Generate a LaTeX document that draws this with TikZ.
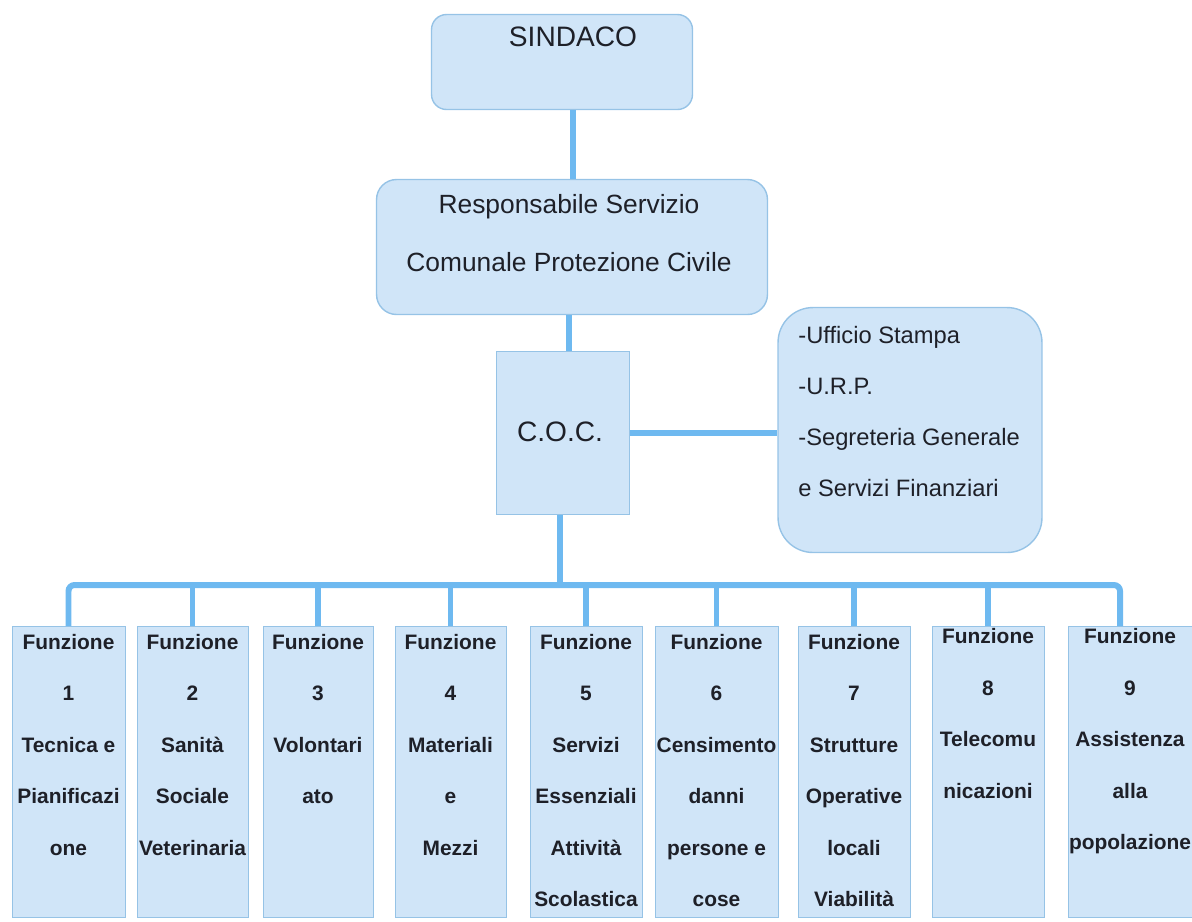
\documentclass[tikz,border=0pt]{standalone}
\usepackage{fontspec}
\setmainfont{Liberation Sans}
\usetikzlibrary{positioning}

\definecolor{linkblue}{RGB}{110,185,240}
\definecolor{boxblue}{RGB}{208,229,248}
\definecolor{edgeblue}{RGB}{150,195,230}
\definecolor{textgray}{RGB}{30,32,40}

\tikzset{
	mainbox/.style={draw=edgeblue, fill=boxblue, line width=0.8pt, inner sep=0pt},
	funbox/.style={draw=edgeblue, fill=boxblue, line width=0.5pt, inner sep=0pt, minimum height=5.82cm},
	bigtext/.style={font=\fontsize{16}{19}\selectfont, text=textgray, inner sep=0pt},
	midtext/.style={font=\fontsize{15}{33}\selectfont, text=textgray, align=center, inner sep=0pt},
	sidetext/.style={font=\fontsize{13.5}{29}\selectfont, text=textgray, align=left, inner sep=0pt},
	funtext/.style={font=\bfseries\fontsize{11.9}{29.3}\selectfont, text=textgray, align=center, inner sep=0pt},
	link/.style={draw=linkblue, line width=3.4pt},
}

\begin{document}
\begin{tikzpicture}[x=0.02cm, y=-0.02cm, node distance=0.15cm]
	\useasboundingbox (0,0) rectangle (1192,921);

	% upper chain
	\node[mainbox, rounded corners=0.3cm, minimum width=5.22cm, minimum height=1.9cm] (sindaco) at (562,62) {};
	\node[bigtext] (sindacoT) at (573,37) {SINDACO};

	\node[mainbox, rounded corners=0.4cm, minimum width=7.82cm, minimum height=2.7cm] (resp) at (572,247) {};
	\node[midtext] (respT) at (569,233) {Responsabile Servizio\\Comunale Protezione Civile};

	\node[mainbox, minimum width=2.66cm, minimum height=3.26cm] (coc) at (563,433) {};
	\node[bigtext] (cocT) at (560,432) {C.O.C.};

	\node[mainbox, rounded corners=0.7cm, minimum width=5.28cm, minimum height=4.9cm] (uff) at (910,430) {};
	\node[sidetext, anchor=north west] (uffT) at (798,326) {-Ufficio Stampa\\-U.R.P.\\-Segreteria Generale\\e Servizi Finanziari};

	% funzioni
	\node[funbox, minimum width=2.26cm] (f1) at (68.5,772) {};
	\node[funbox, minimum width=2.22cm] (f2) at (192.5,772) {};
	\node[funbox, minimum width=2.2cm]  (f3) at (318,772) {};
	\node[funbox, minimum width=2.22cm] (f4) at (450.5,772) {};
	\node[funbox, minimum width=2.24cm] (f5) at (586,772) {};
	\node[funbox, minimum width=2.46cm] (f6) at (716.5,772) {};
	\node[funbox, minimum width=2.24cm] (f7) at (854,772) {};
	\node[funbox, minimum width=2.24cm] (f8) at (988,772) {};
	\node[funbox, minimum width=2.48cm] (f9) at (1130,772) {};

	\node[funtext, below=of f1.north] (t1) {Funzione\\1\\Tecnica e\\Pianificazi\\one};
	\node[funtext, below=of f2.north] (t2) {Funzione\\2\\Sanità\\Sociale\\Veterinaria};
	\node[funtext, below=of f3.north] (t3) {Funzione\\3\\Volontari\\ato};
	\node[funtext, below=of f4.north] (t4) {Funzione\\4\\Materiali\\e\\Mezzi};
	\node[funtext, below=of f5.north] (t5) {Funzione\\5\\Servizi\\Essenziali\\Attività\\Scolastica};
	\node[funtext, below=of f6.north] (t6) {Funzione\\6\\Censimento\\danni\\persone e\\cose};
	\node[funtext, below=of f7.north] (t7) {Funzione\\7\\Strutture\\Operative\\locali\\Viabilità};
	\node[funtext, below=0.04cm of f8.north] (t8) {Funzione\\8\\Telecomu\\nicazioni};
	\node[funtext, below=0.04cm of f9.north] (t9) {Funzione\\9\\Assistenza\\alla\\popolazione};

	% links
	\coordinate (bus) at (560,585);
	\draw[link] (sindaco.south -| sindacoT) -- (resp.north -| sindacoT);
	\draw[link] (resp.south -| respT) -- (coc.north -| respT);
	\draw[link] (coc.east) -- (coc.east -| uff.west);
	\draw[link] (coc.south -| cocT) -- (bus);
	\draw[link, rounded corners=0.12cm] (f1.north) |- (bus) -| ([xshift=-0.2cm]f9.north);
	\draw[link] (f2.north) -- (f2.north |- bus);
	\draw[link] (f3.north) -- (f3.north |- bus);
	\draw[link] (f4.north) -- (f4.north |- bus);
	\draw[link] (f5.north) -- (f5.north |- bus);
	\draw[link] (f6.north) -- (f6.north |- bus);
	\draw[link] (f7.north) -- (f7.north |- bus);
	\draw[link] (f8.north) -- (f8.north |- bus);
\end{tikzpicture}
\end{document}
